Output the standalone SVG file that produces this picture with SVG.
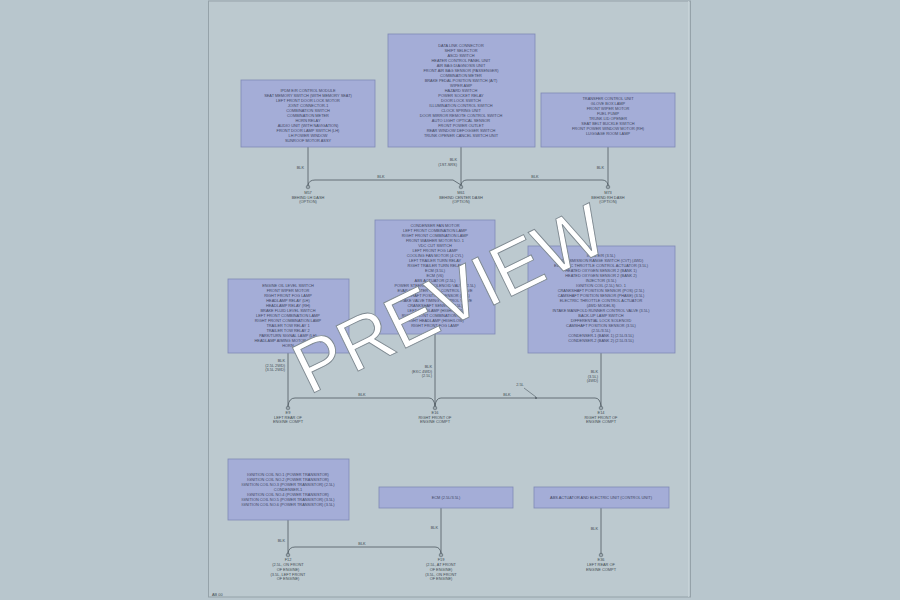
<svg xmlns="http://www.w3.org/2000/svg" width="900" height="600" viewBox="0 0 900 600">
<style>
.box{fill:#a4add7;stroke:#7f89b6;stroke-width:0.8}
.t{font-family:"Liberation Sans",Arial,sans-serif;font-size:3.9px;fill:#40465f;text-anchor:middle}
.l{font-family:"Liberation Sans",Arial,sans-serif;font-size:3.9px;fill:#434c53}
.r{text-anchor:end}
.m{text-anchor:middle}
.w{fill:none;stroke:#4e5961;stroke-width:0.8}
.g{fill:none;stroke:#4e5961;stroke-width:0.6}
.wm{font-family:"Liberation Sans",Arial,sans-serif;font-size:73px;fill:#ffffff;stroke:#7d8890;stroke-width:0.9;text-anchor:middle}
</style>
<rect x="0" y="0" width="900" height="600" fill="#b8c6cd"/>
<rect x="208.5" y="1" width="482" height="596" fill="#bcc9cf" stroke="#95a2a9" stroke-width="1"/>
<line x1="688.5" y1="1" x2="688.5" y2="597" stroke="#c9d4d9" stroke-width="0.8"/>

<g id="connectors">
  <line class="w" x1="308" y1="147" x2="308" y2="186"/>
  <line class="w" x1="461" y1="147" x2="461" y2="186"/>
  <line class="w" x1="608" y1="147" x2="608" y2="186"/>
  <path class="w" d="M308,185 Q309,180 315,180 L453,180 L461,185"/>
  <path class="w" d="M461,185 Q462,180 467,180 L602,180 Q607,180 608,185"/>
  <line class="w" x1="288" y1="353" x2="288" y2="407"/>
  <line class="w" x1="435" y1="334" x2="435" y2="407"/>
  <line class="w" x1="601" y1="353" x2="601" y2="407"/>
  <path class="w" d="M288,406 Q289,398 295,398 L429,398 Q434,398 435,406"/>
  <path class="w" d="M435,406 Q436,398 441,398 L595,398 Q600,398 601,406"/>
  <line class="g" x1="524" y1="388" x2="536" y2="397"/>
  <circle cx="536" cy="398" r="0.9" fill="#4e5961"/>
  <line class="w" x1="288" y1="520" x2="288" y2="554"/>
  <line class="w" x1="441" y1="508" x2="441" y2="554"/>
  <line class="w" x1="601" y1="508" x2="601" y2="554"/>
  <path class="w" d="M288,553 Q289,547 295,547 L435,547 Q440,547 441,553"/>
  <g class="l">
    <text x="304" y="169" class="r">BLK</text>
    <text x="457" y="161" class="r">BLK</text>
    <text x="457" y="165.5" class="r">(1ST-SRS)</text>
    <text x="604" y="169" class="r">BLK</text>
    <text x="381" y="178" class="m">BLK</text>
    <text x="535" y="178" class="m">BLK</text>
    <text x="285" y="362" class="r">BLK</text>
    <text x="285" y="366.5" class="r">(2.5L 2WD)</text>
    <text x="285" y="371" class="r">(3.5L 2WD)</text>
    <text x="432" y="368" class="r">BLK</text>
    <text x="432" y="372.5" class="r">(EXC 4WD)</text>
    <text x="432" y="377" class="r">(2.5L)</text>
    <text x="598" y="373" class="r">BLK</text>
    <text x="598" y="377.5" class="r">(3.5L)</text>
    <text x="598" y="382" class="r">(4WD)</text>
    <text x="362" y="396" class="m">BLK</text>
    <text x="507" y="396" class="m">BLK</text>
    <text x="520" y="386" class="m">2.5L</text>
    <text x="285" y="542" class="r">BLK</text>
    <text x="438" y="529" class="r">BLK</text>
    <text x="598" y="530" class="r">BLK</text>
    <text x="362" y="545" class="m">BLK</text>
  </g>
</g>

<g id="nodeA">
  <rect class="box" x="241" y="80" width="134" height="67"/>
  <g class="t">
    <text x="308" y="92">IPDM E/R CONTROL MODULE</text>
    <text x="308" y="97">SEAT MEMORY SWITCH (WITH MEMORY SEAT)</text>
    <text x="308" y="102">LEFT FRONT DOOR LOCK MOTOR</text>
    <text x="308" y="107">JOINT CONNECTOR-1</text>
    <text x="308" y="112">COMBINATION SWITCH</text>
    <text x="308" y="117">COMBINATION METER</text>
    <text x="308" y="122">HORN RELAY</text>
    <text x="308" y="127">AUDIO UNIT (WITH NAVIGATION)</text>
    <text x="308" y="132">FRONT DOOR LAMP SWITCH (LH)</text>
    <text x="308" y="137">LH POWER WINDOW</text>
    <text x="308" y="142">SUNROOF MOTOR ASSY</text>
  </g>
</g>

<g id="nodeB">
  <rect class="box" x="388" y="34" width="147" height="113"/>
  <g class="t">
    <text x="461" y="47">DATA LINK CONNECTOR</text>
    <text x="461" y="52">SHIFT SELECTOR</text>
    <text x="461" y="57">ASCD SWITCH</text>
    <text x="461" y="62">HEATER CONTROL PANEL UNIT</text>
    <text x="461" y="67">AIR BAG DIAGNOSIS UNIT</text>
    <text x="461" y="72">FRONT AIR BAG SENSOR (PASSENGER)</text>
    <text x="461" y="77">COMBINATION METER</text>
    <text x="461" y="82">BRAKE PEDAL POSITION SWITCH (A/T)</text>
    <text x="461" y="87">WIPER AMP</text>
    <text x="461" y="92">HAZARD SWITCH</text>
    <text x="461" y="97">POWER SOCKET RELAY</text>
    <text x="461" y="102">DOOR LOCK SWITCH</text>
    <text x="461" y="107">ILLUMINATION CONTROL SWITCH</text>
    <text x="461" y="112">CLOCK SPRING UNIT</text>
    <text x="461" y="117">DOOR MIRROR REMOTE CONTROL SWITCH</text>
    <text x="461" y="122">AUTO LIGHT OPTICAL SENSOR</text>
    <text x="461" y="127">FRONT POWER OUTLET</text>
    <text x="461" y="132">REAR WINDOW DEFOGGER SWITCH</text>
    <text x="461" y="137">TRUNK OPENER CANCEL SWITCH UNIT</text>
  </g>
</g>

<g id="nodeC">
  <rect class="box" x="541" y="93" width="134" height="54"/>
  <g class="t">
    <text x="608" y="100">TRANSFER CONTROL UNIT</text>
    <text x="608" y="105">GLOVE BOX LAMP</text>
    <text x="608" y="110">FRONT WIPER MOTOR</text>
    <text x="608" y="115">FUEL PUMP</text>
    <text x="608" y="120">TRUNK LID OPENER</text>
    <text x="608" y="125">SEAT BELT BUCKLE SWITCH</text>
    <text x="608" y="130">FRONT POWER WINDOW MOTOR (RH)</text>
    <text x="608" y="135">LUGGAGE ROOM LAMP</text>
  </g>
</g>

<g id="groundM57">
  <circle class="g" cx="308" cy="187" r="1.8"/>
  <line class="g" x1="306.5" y1="187" x2="309.5" y2="187"/>
  <g class="l m"><text x="308" y="194">M57</text><text x="308" y="198.5">BEHIND LH DASH</text><text x="308" y="203">(OPTION)</text></g>
</g>
<g id="groundM61">
  <circle class="g" cx="461" cy="187" r="1.8"/>
  <line class="g" x1="459.5" y1="187" x2="462.5" y2="187"/>
  <g class="l m"><text x="461" y="194">M61</text><text x="461" y="198.5">BEHIND CENTER DASH</text><text x="461" y="203">(OPTION)</text></g>
</g>
<g id="groundM73">
  <circle class="g" cx="608" cy="187" r="1.8"/>
  <line class="g" x1="606.5" y1="187" x2="609.5" y2="187"/>
  <g class="l m"><text x="608" y="194">M73</text><text x="608" y="198.5">BEHIND RH DASH</text><text x="608" y="203">(OPTION)</text></g>
</g>

<g id="nodeD">
  <rect class="box" x="228" y="279" width="121" height="74"/>
  <g class="t">
    <text x="288" y="287">ENGINE OIL LEVEL SWITCH</text>
    <text x="288" y="292">FRONT WIPER MOTOR</text>
    <text x="288" y="297">RIGHT FRONT FOG LAMP</text>
    <text x="288" y="302">HEADLAMP RELAY (LH)</text>
    <text x="288" y="307">HEADLAMP RELAY (RH)</text>
    <text x="288" y="312">BRAKE FLUID LEVEL SWITCH</text>
    <text x="288" y="317">LEFT FRONT COMBINATION LAMP</text>
    <text x="288" y="322">RIGHT FRONT COMBINATION LAMP</text>
    <text x="288" y="327">TRAILER TOW RELAY 1</text>
    <text x="288" y="332">TRAILER TOW RELAY 2</text>
    <text x="288" y="337">PARK/TURN SIGNAL LAMP (LH)</text>
    <text x="288" y="342">HEADLAMP AIMING MOTOR (LH/RH)</text>
    <text x="288" y="347">HORN</text>
  </g>
</g>

<g id="nodeE">
  <rect class="box" x="375" y="220" width="120" height="114"/>
  <g class="t">
    <text x="435" y="227">CONDENSER FAN MOTOR</text>
    <text x="435" y="232">LEFT FRONT COMBINATION LAMP</text>
    <text x="435" y="237">RIGHT FRONT COMBINATION LAMP</text>
    <text x="435" y="242">FRONT WASHER MOTOR NO. 1</text>
    <text x="435" y="247">VDC CUT SWITCH</text>
    <text x="435" y="252">LEFT FRONT FOG LAMP</text>
    <text x="435" y="257">COOLING FAN MOTOR (4 CYL)</text>
    <text x="435" y="262">LEFT TRAILER TURN RELAY</text>
    <text x="435" y="267">RIGHT TRAILER TURN RELAY</text>
    <text x="435" y="272">ECM (3.5L)</text>
    <text x="435" y="277">ECM (V6)</text>
    <text x="435" y="282">ABS ACTUATOR (2.5L)</text>
    <text x="435" y="287">POWER STEERING SOLENOID VALVE (2.5L)</text>
    <text x="435" y="292">EVAP CANISTER VENT CONTROL VALVE</text>
    <text x="435" y="297">CAMSHAFT POSITION SENSOR (2.5L)</text>
    <text x="435" y="302">INTAKE VALVE TIMING CONTROL VALVE</text>
    <text x="435" y="307">CRANKSHAFT SENSOR (3.5L)</text>
    <text x="435" y="312">LEFT HEADLAMP (HIGH/LOW)</text>
    <text x="435" y="317">RIGHT FRONT COMBINATION LAMP</text>
    <text x="435" y="322">RIGHT HEADLAMP (HIGH/LOW)</text>
    <text x="435" y="327">RIGHT FRONT FOG LAMP</text>
  </g>
</g>

<g id="nodeF">
  <rect class="box" x="528" y="246" width="147" height="107"/>
  <g class="t">
    <text x="601" y="257">IPDM E/R (3.5L)</text>
    <text x="601" y="262">TRANSMISSION RANGE SWITCH (CVT) (4WD)</text>
    <text x="601" y="267">ELECTRIC THROTTLE CONTROL ACTUATOR (3.5L)</text>
    <text x="601" y="272">HEATED OXYGEN SENSOR 2 (BANK 1)</text>
    <text x="601" y="277">HEATED OXYGEN SENSOR 2 (BANK 2)</text>
    <text x="601" y="282">INJECTOR (3.5L)</text>
    <text x="601" y="287">IGNITION COIL (2.5L) NO. 1</text>
    <text x="601" y="292">CRANKSHAFT POSITION SENSOR (POS) (2.5L)</text>
    <text x="601" y="297">CAMSHAFT POSITION SENSOR (PHASE) (3.5L)</text>
    <text x="601" y="302">ELECTRIC THROTTLE CONTROL ACTUATOR</text>
    <text x="601" y="307">(4WD MODELS)</text>
    <text x="601" y="312">INTAKE MANIFOLD RUNNER CONTROL VALVE (3.5L)</text>
    <text x="601" y="317">BACK-UP LAMP SWITCH</text>
    <text x="601" y="322">DIFFERENTIAL LOCK SOLENOID</text>
    <text x="601" y="327">CAMSHAFT POSITION SENSOR (3.5L)</text>
    <text x="601" y="332">(2.5L/3.5L)</text>
    <text x="601" y="337">CONDENSER-1 (BANK 1) (2.5L/3.5L)</text>
    <text x="601" y="342">CONDENSER-2 (BANK 2) (2.5L/3.5L)</text>
  </g>
</g>

<g id="groundE9">
  <circle class="g" cx="288" cy="408" r="1.8"/>
  <line class="g" x1="286.5" y1="408" x2="289.5" y2="408"/>
  <g class="l m"><text x="288" y="414">E9</text><text x="288" y="418.5">LEFT REAR OF</text><text x="288" y="423">ENGINE COMPT</text></g>
</g>
<g id="groundE16">
  <circle class="g" cx="435" cy="408" r="1.8"/>
  <line class="g" x1="433.5" y1="408" x2="436.5" y2="408"/>
  <g class="l m"><text x="435" y="414">E16</text><text x="435" y="418.5">RIGHT FRONT OF</text><text x="435" y="423">ENGINE COMPT</text></g>
</g>
<g id="groundE14">
  <circle class="g" cx="601" cy="408" r="1.8"/>
  <line class="g" x1="599.5" y1="408" x2="602.5" y2="408"/>
  <g class="l m"><text x="601" y="414">E14</text><text x="601" y="418.5">RIGHT FRONT OF</text><text x="601" y="423">ENGINE COMPT</text></g>
</g>

<g id="nodeG">
  <rect class="box" x="228" y="459" width="121" height="61"/>
  <g class="t">
    <text x="288" y="476">IGNITION COIL NO.1 (POWER TRANSISTOR)</text>
    <text x="288" y="481">IGNITION COIL NO.2 (POWER TRANSISTOR)</text>
    <text x="288" y="486">IGNITION COIL NO.3 (POWER TRANSISTOR) (2.5L)</text>
    <text x="288" y="491">CONDENSER-1</text>
    <text x="288" y="496">IGNITION COIL NO.4 (POWER TRANSISTOR)</text>
    <text x="288" y="501">IGNITION COIL NO.5 (POWER TRANSISTOR) (3.5L)</text>
    <text x="288" y="506">IGNITION COIL NO.6 (POWER TRANSISTOR) (3.5L)</text>
  </g>
</g>

<g id="nodeH">
  <rect class="box" x="379" y="487" width="134" height="21"/>
  <text class="t" x="446" y="499">ECM (2.5L/3.5L)</text>
</g>

<g id="nodeI">
  <rect class="box" x="534" y="487" width="135" height="21"/>
  <text class="t" x="601" y="499">ABS ACTUATOR AND ELECTRIC UNIT (CONTROL UNIT)</text>
</g>

<g id="groundF12">
  <circle class="g" cx="288" cy="555" r="1.8"/>
  <line class="g" x1="286.5" y1="555" x2="289.5" y2="555"/>
  <g class="l m"><text x="288" y="561">F12</text><text x="288" y="566">(2.5L, ON FRONT</text><text x="288" y="570.5">OF ENGINE)</text><text x="288" y="575.5">(3.5L, LEFT FRONT</text><text x="288" y="580">OF ENGINE)</text></g>
</g>
<g id="groundF19">
  <circle class="g" cx="441" cy="555" r="1.8"/>
  <line class="g" x1="439.5" y1="555" x2="442.5" y2="555"/>
  <g class="l m"><text x="441" y="561">F19</text><text x="441" y="566">(2.5L, AT FRONT</text><text x="441" y="570.5">OF ENGINE)</text><text x="441" y="575.5">(3.5L, ON FRONT</text><text x="441" y="580">OF ENGINE)</text></g>
</g>
<g id="groundE36">
  <circle class="g" cx="601" cy="555" r="1.8"/>
  <line class="g" x1="599.5" y1="555" x2="602.5" y2="555"/>
  <g class="l m"><text x="601" y="561">E36</text><text x="601" y="566">LEFT REAR OF</text><text x="601" y="570.5">ENGINE COMPT</text></g>
</g>

<text class="l" x="212" y="595.5">AB 00</text>

<text class="wm" transform="translate(449,298) rotate(-26)" y="26">PREVIEW</text>
</svg>
